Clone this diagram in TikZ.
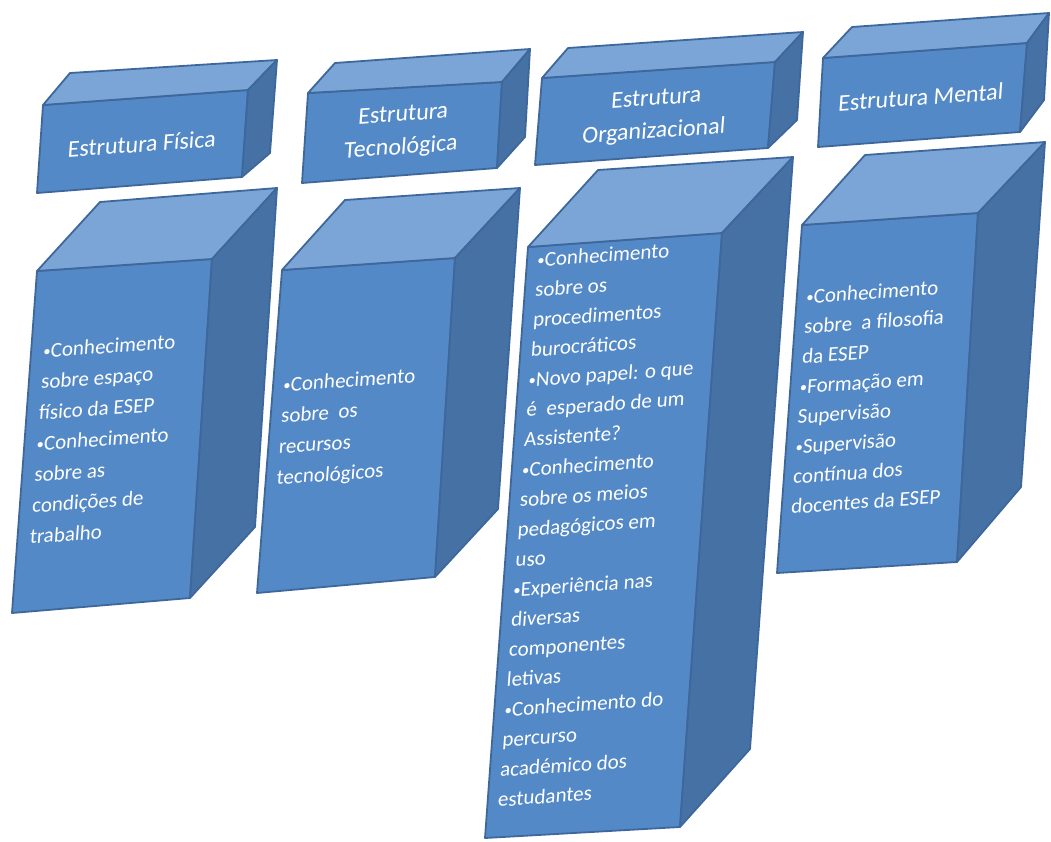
\documentclass[tikz,border=0pt]{standalone}
\usepackage{fontspec}
\setmainfont{Carlito}
\definecolor{frontc}{RGB}{84,137,199}
\definecolor{topc}{RGB}{122,165,214}
\definecolor{sidec}{RGB}{69,113,165}
\definecolor{edgec}{RGB}{62,103,155}
\newcommand\mycube[7]{%
  \draw[face,fill=frontc] (#1) -- (#2) -- (#3) -- (#4) -- cycle;
  \draw[face,fill=topc] (#1) -- (#5) -- (#6) -- (#2) -- cycle;
  \draw[face,fill=sidec] (#2) -- (#6) -- (#7) -- (#3) -- cycle;}
\newcommand\bul{\raisebox{1.5pt}{\scalebox{0.7}{•}}}
\begin{document}
\begin{tikzpicture}[x=1pt,y=1pt,
  face/.style={draw=edgec, line width=1.8pt, line join=round},
  persp/.style={cm={1,0.07,0.073,1,(0,0)}, text=white, inner sep=0pt},
  head/.style={persp, align=center, font=\fontsize{24}{33}\selectfont},
  body/.style={persp, align=left, anchor=north west, font=\fontsize{21}{30}\selectfont}]
\useasboundingbox (0,0) rectangle (1051,-841);
% header cubes
\mycube{43,-105}{248,-90}{242,-177}{37,-193}{70,-73}{277,-60}{270,-153}
\mycube{308,-93}{502,-82}{497,-168}{302,-183}{335,-63}{530,-49}{525,-137}
\mycube{542,-78}{775,-62}{768,-148}{535,-165}{568,-48}{803,-32}{797,-120}
\mycube{823,-58}{1027,-43}{1020,-132}{818,-147}{852,-27}{1049,-13}{1044,-100}
% body cubes
\mycube{37,-271}{212,-259}{190,-598}{12,-613}{100,-202}{277,-188}{255,-527}
\mycube{282,-270}{455,-258}{435,-577}{257,-593}{345,-200}{520,-188}{498,-509}
\mycube{528,-247}{722,-233}{680,-827}{485,-838}{598,-170}{793,-157}{750,-749}
\mycube{802,-225}{978,-213}{957,-562}{777,-573}{865,-155}{1045,-142}{1021,-487}
% header texts
\node[head] (h1) at (142,-144) {Estrutura Física};
\node[head] (h2) at (402,-132) {Estrutura\\Tecnológica};
\node[head] (h3) at (655,-116) {Estrutura\\Organizacional};
\node[head] (h4) at (921,-97) {Estrutura Mental};
% body texts
\node[body, font=\fontsize{21}{31}\selectfont] (b1) at (44,-343) {\bul Conhecimento\\sobre espaço\\físico da ESEP\\\bul Conhecimento\\sobre as\\condições de\\trabalho};
\node[body, font=\fontsize{21}{31}\selectfont] (b2) at (284,-377) {\bul Conhecimento\\sobre\ \ os\\recursos\\tecnológicos};
\node[body] (b3) at (538,-252) {\bul Conhecimento\\sobre os\\procedimentos\\burocráticos\\\bul Novo papel: o que\\é\ \ esperado de um\\Assistente?\\\bul Conhecimento\\sobre os meios\\pedagógicos em\\uso\\\bul Experiência nas\\diversas\\componentes\\letivas\\\bul Conhecimento do\\percurso\\académico dos\\estudantes};
\node[body] (b4) at (807,-289) {\bul Conhecimento\\sobre\ \ a filosofia\\da ESEP\\\bul Formação em\\Supervisão\\\bul Supervisão\\contínua dos\\docentes da ESEP};
\end{tikzpicture}
\end{document}
